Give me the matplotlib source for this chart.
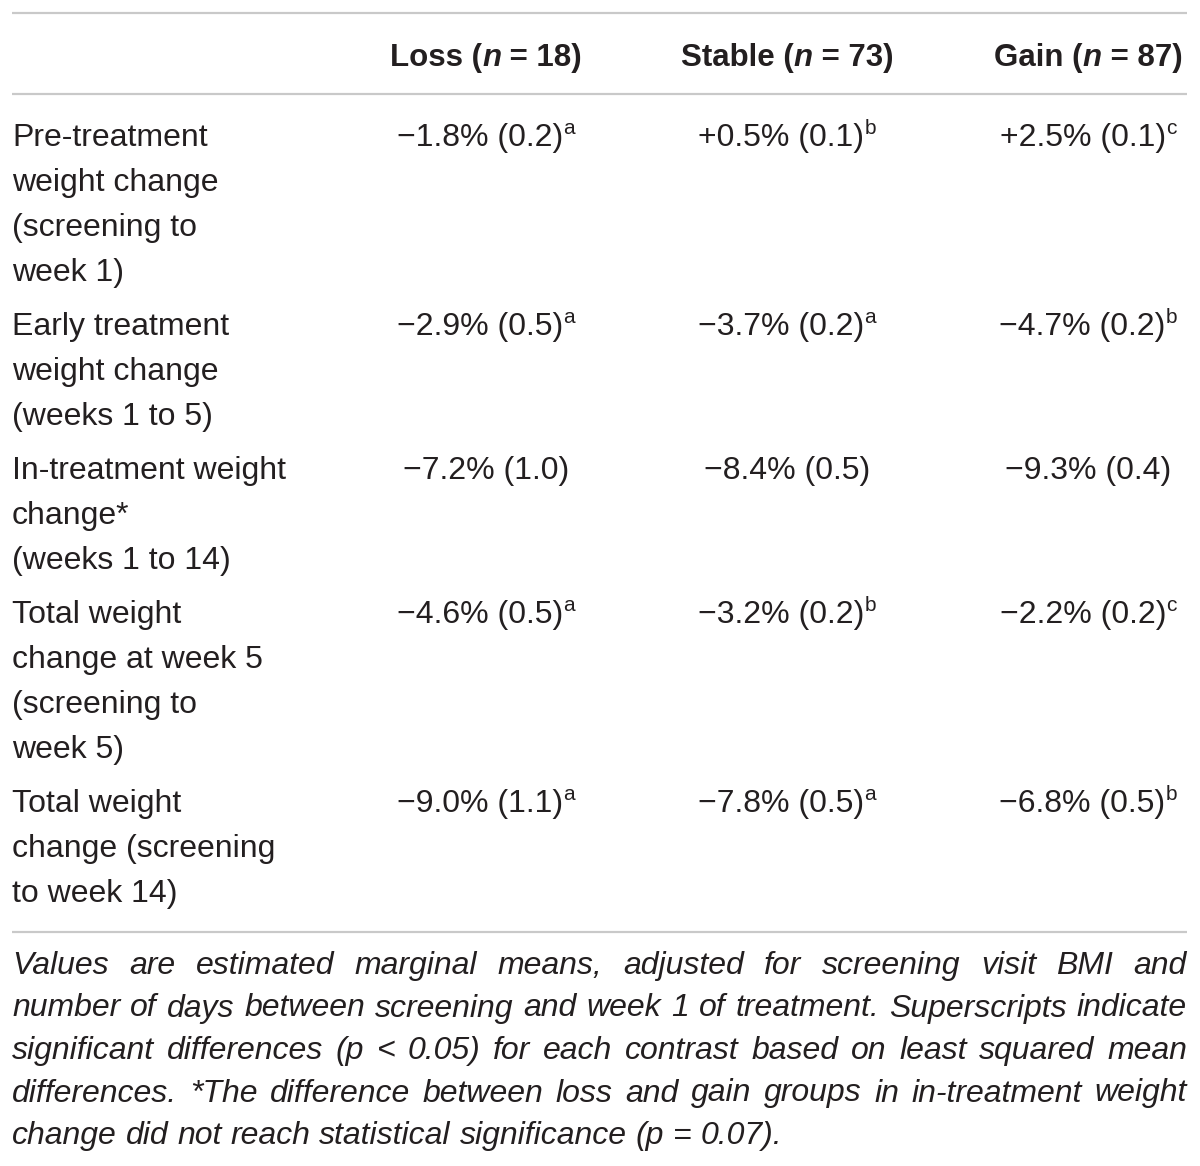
import matplotlib
matplotlib.use("Agg")
import matplotlib.pyplot as plt

# ---- table content ----
columns = ["Loss", "Stable", "Gain"]
group_n = [18, 73, 87]

row_labels = [
    ["Pre-treatment", "weight change", "(screening to", "week 1)"],
    ["Early treatment", "weight change", "(weeks 1 to 5)"],
    ["In-treatment weight", "change*", "(weeks 1 to 14)"],
    ["Total weight", "change at week 5", "(screening to", "week 5)"],
    ["Total weight", "change (screening", "to week 14)"],
]

means = [
    [-1.8, 0.5, 2.5],
    [-2.9, -3.7, -4.7],
    [-7.2, -8.4, -9.3],
    [-4.6, -3.2, -2.2],
    [-9.0, -7.8, -6.8],
]
ses = [
    [0.2, 0.1, 0.1],
    [0.5, 0.2, 0.2],
    [1.0, 0.5, 0.4],
    [0.5, 0.2, 0.2],
    [1.1, 0.5, 0.5],
]
sups = [
    ["a", "b", "c"],
    ["a", "a", "b"],
    ["", "", ""],
    ["a", "b", "c"],
    ["a", "a", "b"],
]

footnote_lines = [
    "Values are estimated marginal means, adjusted for screening visit BMI and",
    "number of days between screening and week 1 of treatment. Superscripts indicate",
    "significant differences (p < 0.05) for each contrast based on least squared mean",
    "differences. *The difference between loss and gain groups in in-treatment weight",
    "change did not reach statistical significance (p = 0.07).",
]

# ---- styling ----
FONT = "Liberation Sans"
TXT = "#231f20"
RULE = "#c9c9c9"
BODY = 23
HEAD = 22.5
SUP = 15
FOOT = 23

W, H = 1200, 1166
fig = plt.figure(figsize=(W / 100, H / 100), dpi=100)
ax = fig.add_axes([0, 0, 1, 1])
ax.set_xlim(0, W)
ax.set_ylim(H, 0)
ax.axis("off")
fig.canvas.draw()
renderer = fig.canvas.get_renderer()

_cache = {}


def measure(s, **kw):
    key = (s, tuple(sorted(kw.items())))
    if key in _cache:
        return _cache[key]
    t1 = ax.text(0, 0, "|" + s + "|", family=FONT, **kw)
    t2 = ax.text(0, 0, "||", family=FONT, **kw)
    w = t1.get_window_extent(renderer).width - t2.get_window_extent(renderer).width
    t1.remove()
    t2.remove()
    _cache[key] = w
    return w


def draw_runs(runs, x, y, align="center"):
    # runs: list of (text, style kwargs, vertical offset)
    widths = [measure(s, **kw) for s, kw, _ in runs]
    total = sum(widths)
    cur = x - total / 2 if align == "center" else x
    for (s, kw, dy), w in zip(runs, widths):
        ax.text(cur, y + dy, s, family=FONT, color=TXT, ha="left",
                va="baseline", **kw)
        cur += w


LEFT, RIGHT = 12, 1187
col_x = [486, 787, 1088]

# rules
for yy in (13, 94, 932):
    ax.plot([LEFT, RIGHT], [yy, yy], color=RULE, lw=1.6, solid_capstyle="butt")

# header
bold = dict(size=HEAD, weight="bold")
bold_it = dict(size=HEAD, weight="bold", style="italic")
for name, n, cx in zip(columns, group_n, col_x):
    draw_runs([(name + " (", bold, 0), ("n", bold_it, 0),
               (f" = {n})", bold, 0)], cx, 66)

# body
plain = dict(size=BODY)
sup_kw = dict(size=SUP)
LINE = 45
y0 = 146
for labels, m_row, s_row, sup_row in zip(row_labels, means, ses, sups):
    for i, lab in enumerate(labels):
        ax.text(LEFT, y0 + i * LINE, lab, family=FONT, color=TXT,
                size=BODY, ha="left", va="baseline")
    for m, se, sp, cx in zip(m_row, s_row, sup_row, col_x):
        sign = "+" if m > 0 else "\u2212"
        runs = [(f"{sign}{abs(m):.1f}% ({se:.1f})", plain, 0)]
        if sp:
            runs.append((sp, sup_kw, -12))
        draw_runs(runs, cx, y0)
    y0 += len(labels) * LINE + 9

# footnote, justified
foot_kw = dict(size=FOOT, style="italic")
space_w = measure(" ", **foot_kw)
fy = 974
for k, line in enumerate(footnote_lines):
    words = line.split(" ")
    ws = [measure(w, **foot_kw) for w in words]
    if k < len(footnote_lines) - 1:
        gap = (RIGHT - LEFT - sum(ws)) / (len(words) - 1)
    else:
        gap = space_w
    cur = LEFT
    for w, wd in zip(words, ws):
        ax.text(cur, fy, w, family=FONT, color=TXT, ha="left",
                va="baseline", **foot_kw)
        cur += wd + gap
    fy += 42.5

fig.savefig("out.png", dpi=100)
